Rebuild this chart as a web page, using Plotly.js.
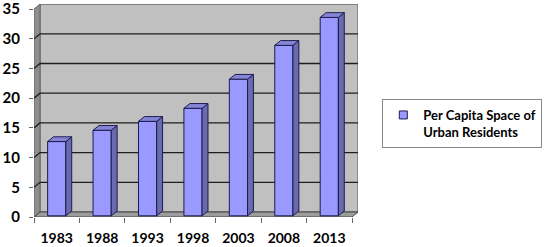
<!DOCTYPE html>
<html>
<head>
<meta charset="utf-8">
<script src="https://cdn.plot.ly/plotly-3.0.1.min.js"></script>
<style>html,body{margin:0;padding:0;background:#fff;}#chart{width:550px;height:247px;}</style>
</head>
<body>
<div id="chart"></div>
<script>
// ---- data ----
const years = ['1983', '1988', '1993', '1998', '2003', '2008', '2013'];
const values = [12.5, 14.4, 15.9, 18.1, 23.0, 28.7, 33.4];
const yTicks = [0, 5, 10, 15, 20, 25, 30, 35];
const seriesName = 'Per Capita Space of<br>Urban Residents';

// ---- 3D look (styling constants) ----
const DX = 0.132, DY = 0.84;     // wall depth (axis units)
const BW = 0.4;                  // bar width
const BDX = 0.13, BDY = 0.8;     // bar depth
const OFF = 0.2;                 // bar front plane lift
const YMAX = yTicks[yTicks.length - 1];
const n = years.length;
const idx = years.map((_, i) => i);
const xL = -0.5, xR = n - 0.5;

const font = 'Lato, "Open Sans", sans-serif';
const barColor = '#9999FF', sideColor = '#6A6AAE', topColor = '#8585D6', edge = '#1c1c50';

// side and top faces built from values
const sx = [], sy = [], tx = [], ty = [];
idx.forEach((i) => {
  const v = values[i];
  const r = i + BW / 2, l = i - BW / 2;
  sx.push(r, r + BDX, r + BDX, r, r, null);
  sy.push(OFF, OFF + BDY, OFF + v + BDY, OFF + v, OFF, null);
  tx.push(l, r, r + BDX, l + BDX, l, null);
  ty.push(OFF + v, OFF + v, OFF + v + BDY, OFF + v + BDY, OFF + v, null);
});

const traces = [
  { type: 'bar', x: idx, y: values, base: OFF, width: BW, showlegend: false, hoverinfo: 'skip',
    marker: { color: barColor, line: { color: edge, width: 1 } } },
  { type: 'scatter', mode: 'lines', x: sx, y: sy, fill: 'toself', fillcolor: sideColor,
    line: { color: edge, width: 1 }, showlegend: false, hoverinfo: 'skip' },
  { type: 'scatter', mode: 'lines', x: tx, y: ty, fill: 'toself', fillcolor: topColor,
    line: { color: edge, width: 1 }, showlegend: false, hoverinfo: 'skip' },
  { type: 'scatter', mode: 'markers', x: [null], y: [null], name: seriesName, showlegend: true,
    marker: { symbol: 'square', size: 8, color: barColor, line: { color: edge, width: 1 } } }
];

const shapes = [];
// back wall
shapes.push({ type: 'rect', xref: 'x', yref: 'y', layer: 'below',
  x0: xL + DX, x1: xR + DX, y0: DY, y1: YMAX + DY,
  fillcolor: '#C0C0C0', line: { color: '#555', width: 1 } });
// side wall
shapes.push({ type: 'path', xref: 'x', yref: 'y', layer: 'below',
  path: `M${xL},0 L${xL + DX},${DY} L${xL + DX},${YMAX + DY} L${xL},${YMAX} Z`,
  fillcolor: '#8E8E8E', line: { color: '#666', width: 1 } });
// floor
shapes.push({ type: 'path', xref: 'x', yref: 'y', layer: 'below',
  path: `M${xL},0 L${xR},0 L${xR + DX},${DY} L${xL + DX},${DY} Z`,
  fillcolor: '#9C9C9C', line: { color: '#444', width: 1 } });
// gridlines on walls
yTicks.filter(k => k > 0 && k < YMAX).forEach(k => {
  shapes.push({ type: 'path', xref: 'x', yref: 'y', layer: 'below',
    path: `M${xL},${k} L${xL + DX},${k + DY} L${xR + DX},${k + DY}`,
    line: { color: '#1e1e1e', width: 1.3 } });
});

const boundaries = idx.map(i => i - 0.5).concat([n - 0.5]);

const layout = {
  width: 550, height: 247,
  margin: { l: 34, r: 192, t: 4, b: 30 },
  paper_bgcolor: '#fff', plot_bgcolor: 'rgba(0,0,0,0)',
  showlegend: true,
  xaxis: {
    range: [xL, xR + DX], tickmode: 'array', tickvals: idx, ticktext: years,
    ticks: 'outside', ticklen: 0, tickcolor: 'rgba(0,0,0,0)',
    minor: { tickmode: 'array', tickvals: boundaries, ticks: 'outside', ticklen: 5, tickcolor: '#666', tickwidth: 1, showgrid: false },
    showgrid: false, zeroline: false, showline: false, fixedrange: true,
    ticklabelstandoff: 8, ticklabeloverflow: 'allow',
    tickfont: { family: font, size: 14, color: '#000', weight: 'bold' }
  },
  yaxis: {
    range: [0, 35.86], tickmode: 'array', tickvals: yTicks,
    ticks: 'outside', ticklen: 4, tickcolor: '#666',
    showgrid: false, zeroline: false, showline: false, fixedrange: true,
    ticklabelstandoff: 6, ticklabeloverflow: 'allow',
    tickfont: { family: font, size: 15, color: '#000', weight: 'bold' }
  },
  shapes: shapes,
  legend: {
    x: 1.075, y: 0.554, xanchor: 'left', yanchor: 'top', valign: 'top',
    bgcolor: '#fff', bordercolor: '#888', borderwidth: 1,
    font: { family: font, size: 13, color: '#000', weight: 'bold' }
  }
};

Plotly.newPlot('chart', traces, layout, { displayModeBar: false, staticPlot: true });
</script>
</body>
</html>
